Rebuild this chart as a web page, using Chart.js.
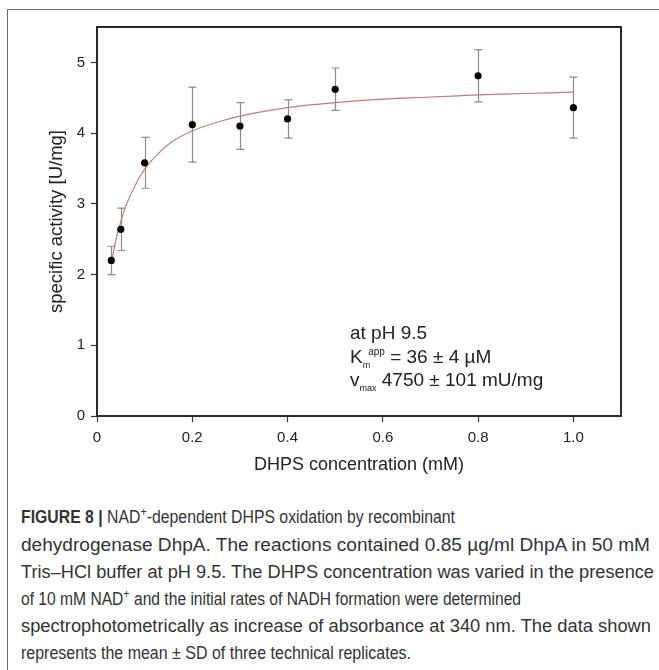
<!DOCTYPE html>
<html>
<head>
<meta charset="utf-8">
<script src="https://cdn.jsdelivr.net/npm/chart.js@4"></script>
<style>
  html, body { margin: 0; padding: 0; background: #fff; }
  body { width: 659px; height: 670px; position: relative; overflow: hidden; font-family: "Liberation Sans", Arial, sans-serif; }
  #frame { position: absolute; left: 7px; top: 9px; width: 700px; height: 700px; border: 1px solid #6a6a6a; box-sizing: border-box; }
  #Canvas { position: absolute; left: 0; top: 0; }
  #nota { position: absolute; left: 350px; top: 321px; font-size: 19px; line-height: 23.5px; color: #222; white-space: nowrap; }
  #nota .sb { font-size: 9px; position: relative; top: 5px; line-height: 0; }
  #nota .sp { font-size: 10px; position: relative; top: -8px; line-height: 0; margin-left: -2px; }
  .cap { position: absolute; left: 21px; font-family: "Liberation Sans", sans-serif; font-size: 17.5px; color: #333; white-space: nowrap; transform-origin: 0 50%; line-height: 20px; }
  .cap sup { font-size: 12px; line-height: 0; }
</style>
</head>
<body>
<div id="frame"></div>
<canvas id="Canvas" width="659" height="490"></canvas>
<div id="nota">
  <div>at pH 9.5</div>
  <div>K<span class="sb">m</span><span class="sp">app</span> = 36 ± 4 µM</div>
  <div>v<span class="sb">max</span> 4750 ± 101 mU/mg</div>
</div>
<div class="cap" data-w="434" style="top:507px"><b>FIGURE 8 |</b> NAD<sup>+</sup>-dependent DHPS oxidation by recombinant</div>
<div class="cap" data-w="629" style="top:535px">dehydrogenase DhpA. The reactions contained 0.85 µg/ml DhpA in 50 mM</div>
<div class="cap" data-w="633" style="top:562px">Tris–HCl buffer at pH 9.5. The DHPS concentration was varied in the presence</div>
<div class="cap" data-w="500" style="top:589px">of 10 mM NAD<sup>+</sup> and the initial rates of NADH formation were determined</div>
<div class="cap" data-w="630" style="top:616px">spectrophotometrically as increase of absorbance at 340 nm. The data shown</div>
<div class="cap" data-w="390" style="top:643px">represents the mean ± SD of three technical replicates.</div>
<script>
// dados
let concentracao = [0.03, 0.05, 0.1, 0.2, 0.3, 0.4, 0.5, 0.8, 1.0];
let atividade = [2.2, 2.64, 3.58, 4.12, 4.1, 4.2, 4.62, 4.81, 4.36];
let desvio = [0.2, 0.3, 0.36, 0.53, 0.33, 0.27, 0.3, 0.37, 0.43];

// curva ajustada (Michaelis-Menten)
let curvaX = [0.03, 0.04, 0.05, 0.06, 0.08, 0.1, 0.13, 0.16, 0.2, 0.25, 0.3, 0.4, 0.5, 0.6, 0.7, 0.8, 0.9, 1.0];
let curvaY = [2.16, 2.5, 2.75, 2.96, 3.26, 3.49, 3.72, 3.89, 4.03, 4.15, 4.24, 4.36, 4.43, 4.48, 4.51, 4.54, 4.56, 4.58];

let xTicks = [0, 0.2, 0.4, 0.6, 0.8, 1.0];
let xTickLabels = ["0", "0.2", "0.4", "0.6", "0.8", "1.0"];
let yTicks = [0, 1, 2, 3, 4, 5];

let pontos = concentracao.map((x, i) => ({ x: x, y: atividade[i] }));
let curva = curvaX.map((x, i) => ({ x: x, y: curvaY[i] }));

// barras de erro e moldura
let barrasErro = {
  id: "barrasErro",
  beforeDatasetsDraw(chart) {
    let ctx = chart.ctx;
    let sx = chart.scales.x, sy = chart.scales.y;
    ctx.save();
    ctx.strokeStyle = "#8c8c8c";
    ctx.lineWidth = 1.2;
    for (let i = 0; i < concentracao.length; i++) {
      let px = Math.round(sx.getPixelForValue(concentracao[i])) + 0.5;
      let y1 = sy.getPixelForValue(atividade[i] + desvio[i]);
      let y2 = sy.getPixelForValue(atividade[i] - desvio[i]);
      ctx.beginPath();
      ctx.moveTo(px, y1); ctx.lineTo(px, y2);
      ctx.moveTo(px - 4, y1); ctx.lineTo(px + 4, y1);
      ctx.moveTo(px - 4, y2); ctx.lineTo(px + 4, y2);
      ctx.stroke();
    }
    ctx.restore();
  },
  afterDraw(chart) {
    let a = chart.chartArea;
    let ctx = chart.ctx;
    ctx.save();
    ctx.strokeStyle = "#2a2a2a";
    ctx.lineWidth = 2;
    ctx.strokeRect(a.left, a.top, a.right - a.left, a.bottom - a.top);
    ctx.restore();
  }
};

let ctx = document.getElementById("Canvas").getContext("2d");
new Chart(ctx, {
  type: "scatter",
  data: {
    datasets: [
      {
        data: pontos,
        backgroundColor: "#000",
        borderWidth: 0,
        pointRadius: 3.6,
        showLine: false
      },
      {
        type: "line",
        data: curva,
        borderColor: "#c97a7a",
        borderWidth: 1.2,
        pointRadius: 0,
        fill: false,
        cubicInterpolationMode: "monotone"
      }
    ]
  },
  options: {
    responsive: false,
    animation: false,
    devicePixelRatio: 1,
    layout: { padding: { top: 27, right: 38, left: 0, bottom: 0 } },
    plugins: { legend: { display: false }, tooltip: { enabled: false } },
    scales: {
      x: {
        type: "linear",
        min: 0,
        max: 1.1,
        afterFit: function (s) { s.height = 74; },
        afterBuildTicks: function (s) { s.ticks = xTicks.map(v => ({ value: v })); },
        border: { display: false },
        grid: { drawOnChartArea: false, drawTicks: true, tickLength: 6, color: "#333", tickWidth: 1.2 },
        ticks: {
          color: "#222",
          padding: 7,
          maxRotation: 0,
          font: { family: "Liberation Sans", size: 15 },
          callback: function (v) { return xTickLabels[xTicks.indexOf(v)]; }
        },
        title: {
          display: true,
          text: "DHPS concentration (mM)",
          color: "#222",
          font: { family: "Liberation Sans", size: 18 },
          padding: { bottom: 14, top: 0 }
        }
      },
      y: {
        min: 0,
        max: 5.5,
        afterFit: function (s) { s.width = 97; },
        afterBuildTicks: function (s) { s.ticks = yTicks.map(v => ({ value: v })); },
        border: { display: false },
        grid: { drawOnChartArea: false, drawTicks: true, tickLength: 6, color: "#333", tickWidth: 1.2 },
        ticks: {
          color: "#222",
          padding: 6,
          font: { family: "Liberation Sans", size: 15 }
        },
        title: {
          display: true,
          text: "specific activity [U/mg]",
          color: "#222",
          font: { family: "Liberation Sans", size: 18.5 },
          padding: { top: 46, bottom: 0 }
        }
      }
    }
  },
  plugins: [barrasErro]
});

// cada linha da legenda ocupa a mesma largura que na figura
document.querySelectorAll(".cap").forEach(l => {
  let fator = Number(l.dataset.w) / l.getBoundingClientRect().width;
  l.style.transform = "scaleX(" + fator + ")";
});
</script>
</body>
</html>
